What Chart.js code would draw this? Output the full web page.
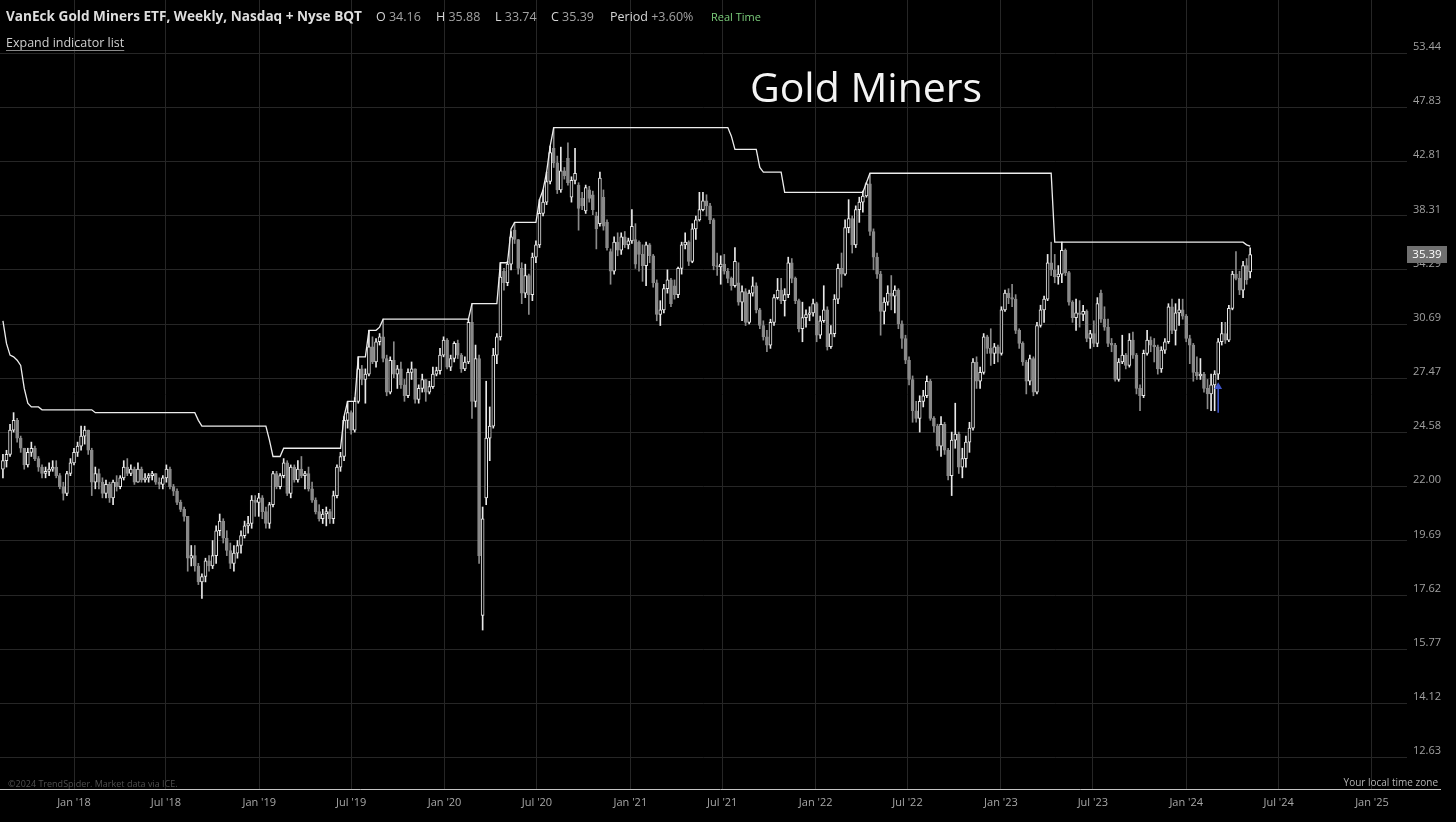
<!DOCTYPE html>
<html>
<head>
<meta charset="utf-8">
<title>Gold Miners</title>
<script src="https://cdn.jsdelivr.net/npm/chart.js@4.4.0/dist/chart.umd.min.js"></script>
<style>
  html, body { margin: 0; padding: 0; background: #000; }
  #wrap { width: 1456px; height: 822px; position: relative; background: #000; }
</style>
</head>
<body>
<div id="wrap"><canvas id="gdx" width="1456" height="822"></canvas></div>
<script>
// weekly candles, first one is the week of 14 Aug 2017, last one the week of 6 May 2024
const firstWeek = [2017, 8, 14];

const opens = [
  22.8,23.2,23.5,24.7,25.2,24.3,23.8,23.0,23.6,23.8,
  23.3,22.9,22.6,22.7,22.8,22.9,22.5,22.0,21.7,22.6,
  23.1,23.6,23.9,24.4,24.7,23.7,22.2,22.6,22.2,21.7,
  22.1,21.5,22.2,22.0,22.4,22.9,22.6,22.8,22.2,22.8,
  22.3,22.4,22.5,22.6,22.2,22.1,22.4,22.8,22.0,21.8,
  21.3,21.0,20.7,19.0,19.1,18.7,18.1,18.3,18.9,18.7,
  19.1,20.1,20.5,19.8,19.3,18.8,19.2,19.5,19.9,20.3,
  20.4,21.4,21.3,21.5,20.9,20.4,21.2,22.6,22.0,22.5,
  23.1,21.7,22.9,22.3,22.8,22.5,22.6,21.9,21.4,20.9,
  20.6,20.8,20.9,20.6,21.6,22.9,23.4,25.2,25.6,24.7,
  26.2,28.0,27.4,27.7,29.3,28.4,29.6,29.9,28.6,26.7,
  28.5,27.7,28.0,27.1,26.5,27.8,28.0,26.3,26.9,27.4,
  26.7,27.0,27.7,27.9,28.8,29.7,28.1,28.6,29.5,28.8,
  28.0,28.4,30.8,26.2,28.6,16.9,21.5,24.3,24.9,28.8,
  29.9,34.2,33.4,34.7,37.2,36.5,34.4,32.7,33.9,32.6,
  35.2,36.1,38.5,39.4,41.1,44.0,42.7,40.4,42.0,43.1,
  39.8,41.2,40.8,39.7,38.7,40.4,40.0,38.3,37.7,39.8,
  37.8,35.6,34.2,36.3,35.7,36.7,36.1,36.4,36.5,36.3,
  35.4,34.6,36.1,35.3,33.4,31.3,31.6,33.0,33.6,33.2,
  32.6,34.4,36.1,36.3,34.9,37.3,38.0,38.8,39.5,39.1,
  38.0,34.6,34.5,34.7,34.2,33.7,33.2,33.4,32.1,32.8,
  30.8,32.7,33.2,31.6,30.6,29.9,29.4,30.8,32.4,32.9,
  32.2,32.6,34.8,33.7,32.2,30.4,31.1,31.3,31.4,32.0,
  30.0,30.9,31.6,29.3,30.1,32.3,34.4,34.0,37.4,38.1,
  36.1,38.8,39.4,39.9,40.9,37.1,35.2,34.0,31.5,32.1,
  32.7,32.5,32.9,30.7,29.8,28.5,27.4,25.7,25.3,26.2,
  26.5,27.3,25.3,24.9,23.9,25.0,23.7,22.5,24.2,24.5,
  22.9,23.3,24.1,24.8,28.4,27.3,27.8,29.9,29.2,28.9,
  29.3,28.9,31.6,32.7,32.4,32.3,30.3,29.5,28.4,27.3,
  28.6,26.7,30.6,31.6,32.3,34.8,34.3,33.8,34.0,35.7,
  34.1,32.1,31.1,31.4,31.3,31.5,29.8,30.1,29.5,32.7,
  31.0,30.5,29.5,29.4,27.4,28.4,28.8,28.2,29.7,28.8,
  26.9,26.5,28.9,29.7,29.4,29.3,28.0,29.1,29.6,31.8,
  30.3,31.4,31.6,31.2,29.8,29.4,27.8,27.6,27.7,26.9,
  26.6,27.1,27.7,29.6,30.1,29.7,31.7,34.0,33.7,32.9,
  34.6,34.16
];

const highs = [
  23.5,23.7,25.0,25.6,25.3,24.4,23.8,23.8,24.1,23.9,
  23.4,23.0,22.9,23.1,23.2,23.2,22.6,22.2,22.7,23.3,
  23.8,24.1,24.9,24.9,24.7,23.8,22.9,22.8,22.4,22.3,
  22.2,22.3,22.5,22.5,23.2,23.3,23.0,22.9,23.1,22.9,
  22.6,22.6,22.7,22.6,22.4,22.5,23.0,22.9,22.1,21.9,
  21.4,21.1,20.7,19.5,19.5,18.8,18.4,19.0,19.1,19.7,
  20.3,20.8,20.6,20.1,19.6,19.5,19.7,20.1,20.5,20.7,
  21.6,21.6,21.7,21.6,21.1,21.3,22.7,22.7,22.6,23.3,
  23.2,23.0,23.0,23.2,23.4,22.7,22.9,22.2,21.5,21.2,
  21.0,21.1,21.0,21.8,23.0,23.6,25.4,26.2,25.7,26.4,
  28.7,28.2,28.0,30.3,29.9,29.8,30.1,31.0,28.8,28.7,
  29.6,28.2,28.4,27.4,28.0,28.4,28.0,27.1,27.7,27.4,
  27.3,28.1,28.1,29.2,29.9,29.8,28.8,29.6,29.7,28.9,
  28.7,31.0,32.0,29.4,28.8,21.1,27.3,25.9,29.2,30.1,
  34.8,34.4,34.9,37.1,37.8,36.5,34.8,34.7,34.0,35.5,
  36.4,39.6,40.4,41.9,44.2,45.9,43.3,44.1,42.3,44.5,
  41.5,44.0,41.0,40.2,40.8,40.7,40.3,38.6,41.9,40.4,
  38.0,35.8,36.7,37.0,37.0,37.1,36.6,38.8,37.7,36.4,
  36.1,36.3,36.2,35.4,33.6,32.2,33.3,34.3,33.7,33.6,
  34.5,36.3,37.0,36.4,37.7,38.3,40.2,40.2,40.0,39.3,
  38.1,35.5,35.3,35.4,34.4,33.8,35.9,34.8,33.2,33.0,
  32.9,33.8,33.4,31.7,30.9,30.3,31.0,32.6,33.7,33.7,
  33.0,35.2,35.1,33.8,32.3,32.1,31.6,31.8,32.3,32.1,
  31.2,33.2,31.8,30.6,32.6,34.7,35.5,38.0,39.6,38.3,
  39.1,39.8,40.3,41.0,41.8,37.3,35.5,34.2,32.4,33.2,
  33.9,33.2,33.0,30.9,30.0,28.7,27.6,26.2,26.5,26.8,
  27.6,27.4,25.4,25.0,25.4,25.1,23.8,24.6,26.1,24.6,
  23.8,24.4,25.1,28.6,28.7,28.1,30.1,30.0,30.4,29.5,
  29.4,31.8,32.9,33.0,33.3,32.6,30.4,29.6,28.5,28.8,
  28.7,30.8,31.9,32.5,35.4,36.3,35.4,34.6,36.3,35.8,
  34.2,32.2,32.3,32.2,31.9,31.6,30.3,30.9,32.4,32.9,
  31.8,31.0,29.8,29.5,28.6,30.0,28.9,30.1,30.2,28.9,
  27.1,29.1,30.3,29.9,29.8,29.4,29.3,29.8,32.0,32.3,
  32.0,32.3,32.3,31.3,30.0,29.5,28.7,28.6,27.8,27.4,
  27.7,27.9,29.8,30.8,30.8,31.9,34.2,35.6,34.2,34.9,
  35.1,35.88
];

const lows = [
  22.4,22.9,23.4,24.6,24.1,23.6,22.8,22.9,23.4,23.2,
  22.7,22.4,22.4,22.5,22.7,22.4,21.9,21.4,21.6,22.5,
  23.0,23.4,23.7,24.0,23.5,21.6,21.9,21.9,21.5,21.5,
  21.3,21.2,21.8,21.9,22.3,22.5,22.5,22.1,22.2,22.2,
  22.2,22.2,22.3,22.1,21.9,21.9,22.2,21.9,21.6,21.2,
  20.9,20.5,18.5,18.7,18.5,18.0,17.5,18.1,18.5,18.6,
  18.8,19.9,19.6,19.1,18.6,18.5,19.0,19.2,19.8,20.0,
  20.2,20.7,20.7,20.6,20.2,20.2,21.1,21.9,21.9,22.4,
  21.6,21.5,22.2,22.2,22.4,21.9,21.8,21.3,20.8,20.5,
  20.4,20.3,20.4,20.4,21.5,22.7,23.2,24.8,24.5,24.6,
  26.1,27.1,26.1,27.6,28.3,28.1,29.4,28.4,26.5,26.6,
  27.5,26.9,26.9,26.2,26.4,27.4,26.1,26.1,26.7,26.2,
  26.6,26.9,27.6,27.7,28.7,28.0,27.9,28.4,28.6,27.8,
  27.9,28.3,25.3,25.9,18.8,16.4,21.2,23.2,24.8,28.3,
  29.7,32.9,33.2,34.3,36.2,34.0,32.0,32.4,31.3,32.2,
  34.8,35.9,38.3,39.2,40.9,42.3,40.1,40.2,41.3,40.8,
  39.4,40.9,37.2,38.8,38.5,39.4,38.4,35.8,37.5,37.2,
  35.7,33.3,34.0,35.3,35.4,35.9,35.8,36.2,34.4,34.2,
  33.5,33.2,34.8,33.1,30.9,30.6,31.4,32.7,31.8,32.3,
  32.4,34.0,35.8,34.6,34.8,36.5,37.9,38.7,38.3,37.7,
  34.3,33.9,33.3,34.0,33.4,32.9,33.1,31.9,30.9,30.6,
  30.7,32.5,31.4,30.4,29.7,29.0,29.2,30.6,32.3,32.0,
  31.2,32.4,33.4,32.0,30.2,29.6,30.5,30.9,31.2,29.6,
  29.8,30.8,29.1,29.2,29.9,32.0,33.1,33.9,37.0,35.5,
  35.9,37.8,38.6,39.8,36.8,34.3,33.7,30.0,30.7,31.9,
  31.6,31.4,30.4,29.2,28.3,27.1,25.1,25.1,24.6,25.9,
  26.4,25.2,24.6,23.7,23.4,23.5,22.3,21.6,23.8,22.6,
  22.4,22.9,23.6,24.7,26.9,26.9,27.7,28.9,28.2,28.3,
  28.4,28.8,31.5,32.0,31.8,30.1,29.2,28.2,26.6,27.1,
  26.5,26.6,30.5,30.8,32.2,33.9,33.4,33.3,33.4,33.9,
  31.9,30.8,30.3,30.5,30.9,29.6,29.2,29.3,29.3,30.8,
  30.3,29.3,29.0,27.3,27.3,28.3,28.0,28.1,28.6,26.6,
  25.7,26.4,28.8,29.0,28.4,27.7,27.8,28.9,29.5,30.1,
  29.4,30.6,31.0,29.6,28.3,27.3,27.4,27.4,26.7,25.8,
  25.7,25.7,27.4,29.4,29.5,29.6,31.6,33.6,32.6,32.4,
  33.3,33.74
];

const closes = [
  23.2,23.5,24.7,25.2,24.3,23.8,23.0,23.6,23.8,23.3,
  22.9,22.6,22.7,22.8,22.9,22.5,22.0,21.7,22.6,23.1,
  23.6,23.9,24.4,24.7,23.7,22.2,22.6,22.2,21.7,22.1,
  21.5,22.2,22.0,22.4,22.9,22.6,22.8,22.2,22.8,22.3,
  22.4,22.5,22.6,22.2,22.1,22.4,22.8,22.0,21.8,21.3,
  21.0,20.7,19.0,19.1,18.7,18.1,18.3,18.9,18.7,19.1,
  20.1,20.5,19.8,19.3,18.8,19.2,19.5,19.9,20.3,20.4,
  21.4,21.3,21.5,20.9,20.4,21.2,22.6,22.0,22.5,23.1,
  21.7,22.9,22.3,22.8,22.5,22.6,21.9,21.4,20.9,20.6,
  20.8,20.9,20.6,21.6,22.9,23.4,25.2,25.6,24.7,26.2,
  28.0,27.4,27.7,29.3,28.4,29.6,29.9,28.6,26.7,28.5,
  27.7,28.0,27.1,26.5,27.8,28.0,26.3,26.9,27.4,26.7,
  27.0,27.7,27.9,28.8,29.7,28.1,28.6,29.5,28.8,28.0,
  28.4,30.8,26.2,28.6,19.1,20.6,24.3,24.9,28.8,29.9,
  33.8,33.4,34.7,36.7,36.5,34.4,32.7,33.9,32.6,35.2,
  36.1,38.5,39.4,41.1,43.6,42.7,40.4,42.0,41.6,41.0,
  41.2,41.8,38.9,39.1,40.6,39.7,38.8,37.3,41.4,37.5,
  35.9,34.2,36.3,35.7,36.7,36.1,36.4,37.5,34.7,35.4,
  34.6,36.1,35.3,33.4,31.3,31.6,33.0,33.6,32.0,32.6,
  34.4,36.1,36.3,34.9,37.3,38.0,38.8,39.5,39.1,38.0,
  34.6,34.5,34.7,34.2,33.7,33.2,34.9,32.1,32.8,30.8,
  32.7,33.2,31.6,30.6,29.9,29.4,30.8,32.4,32.9,32.2,
  32.6,34.8,33.7,32.2,30.4,31.1,31.3,31.4,32.0,30.0,
  30.9,31.6,29.3,30.1,32.3,34.4,34.0,37.4,38.1,36.1,
  38.8,39.4,39.9,40.9,37.1,35.2,34.0,31.5,32.1,32.7,
  32.5,32.9,30.7,29.8,28.5,27.4,25.7,25.3,26.2,26.5,
  27.3,25.3,24.9,23.9,25.0,23.7,22.5,24.2,24.5,22.9,
  23.3,24.1,24.8,28.4,27.3,27.8,29.9,29.2,28.9,29.3,
  28.9,31.6,32.7,32.4,32.3,30.3,29.5,28.4,27.3,28.6,
  26.7,30.6,31.6,32.3,34.8,34.3,33.8,34.0,35.7,34.1,
  32.1,31.1,31.4,31.3,31.5,29.8,30.1,29.5,32.0,31.0,
  30.5,29.5,29.4,27.4,28.4,28.8,28.2,29.7,28.8,26.9,
  26.5,28.9,29.7,29.4,29.3,28.0,29.1,29.6,31.8,30.3,
  31.4,31.6,31.2,29.8,29.4,27.8,27.6,27.7,26.9,26.6,
  27.1,27.7,29.6,30.1,29.7,31.7,34.0,33.7,32.9,34.6,
  33.6,35.39
];

// the white stepped line: week number where each level starts, and the level
const stepWeek  = [1, 2, 3, 4, 5, 6, 7, 8, 9, 12, 27, 56, 57, 76, 77, 80, 97, 98, 101, 104,
                   107, 108, 133, 141, 144, 145, 152, 153, 154, 155, 156, 206, 207, 214, 215, 221, 244, 245, 297, 351, 352];
const stepLevel = [30.9, 29.5, 28.8, 28.7, 28.5, 28.2, 26.9, 26.1, 25.9, 25.75, 25.6, 25.2, 24.9, 24.2, 23.4, 23.8, 25.4, 26.2, 28.7, 30.3,
                   30.5, 31.0, 32.0, 34.8, 37.3, 37.8, 39.6, 40.4, 41.9, 44.2, 45.9, 45.1, 43.9, 42.3, 41.9, 40.2, 41.0, 41.8, 36.3, 36.1, 36.0];

// blue buy arrow
const signalWeek = 343;
const signalLow = 25.6;
const signalTip = 27.0;

// axis ticks
const yTicks = [53.44, 47.83, 42.81, 38.31, 34.29, 30.69, 27.47, 24.58, 22.00, 19.69, 17.62, 15.77, 14.12, 12.63];
const xTickDates = [[2018,1],[2018,7],[2019,1],[2019,7],[2020,1],[2020,7],[2021,1],[2021,7],
                    [2022,1],[2022,7],[2023,1],[2023,7],[2024,1],[2024,7],[2025,1]];
const xTickLabels = ["Jan '18","Jul '18","Jan '19","Jul '19","Jan '20","Jul '20","Jan '21","Jul '21",
                     "Jan '22","Jul '22","Jan '23","Jul '23","Jan '24","Jul '24","Jan '25"];

const lastBar = { o: '34.16', h: '35.88', l: '33.74', c: '35.39', period: '+3.60%' };

// x axis is in days counted from 1 Jan 2018
const DAY = 86400000;
const base = Date.UTC(2018, 0, 1);
function dayOf(y, m, d) { return (Date.UTC(y, m - 1, d) - base) / DAY; }

const firstDay = dayOf(firstWeek[0], firstWeek[1], firstWeek[2]);
const weekDays = closes.map((c, i) => firstDay + 7 * i);
const xTickDays = xTickDates.map(t => dayOf(t[0], t[1], 1));

// visible window
const pxPerDay = 1298 / 2557;
const xMin = -74 / pxPerDay;
const xMax = xMin + 1407 / pxPerDay;
const yMin = 11.842;
const yMax = 59.61;

function levelAt(week) {
  let v = stepLevel[0];
  for (let j = 0; j < stepWeek.length; j++) {
    if (stepWeek[j] <= week) v = stepLevel[j];
  }
  return v;
}

const wickData = weekDays.map((d, i) => ({ x: d, y: [lows[i], highs[i]] }));
const bodyData = weekDays.map((d, i) => ({ x: d, y: [opens[i], closes[i]] }));
const stepData = weekDays.map((d, i) => ({ x: d, y: levelAt(i + 1) }));
const sigDay = weekDays[signalWeek - 1];

const UP = '#e9e9e9';
const DOWN = '#8a8a8a';
function isUp(i) { return closes[i] >= opens[i]; }

// texts around the plot
const overlay = {
  id: 'overlay',
  afterDraw(chart) {
    const ctx = chart.ctx;
    ctx.save();
    ctx.textBaseline = 'alphabetic';
    ctx.textAlign = 'left';

    // header
    ctx.font = 'bold 13px "Open Sans"';
    const head = 'VanEck Gold Miners ETF, Weekly, Nasdaq + Nyse BQT';
    let w = ctx.measureText(head).width;
    let size = 13 * 356 / w;
    ctx.font = 'bold ' + size.toFixed(2) + 'px "Open Sans"';
    ctx.fillStyle = '#dedede';
    ctx.fillText(head, 6, 21);

    ctx.font = '12.5px "Open Sans"';
    const parts = [['O', lastBar.o, 376], ['H', lastBar.h, 436], ['L', lastBar.l, 495], ['C', lastBar.c, 551]];
    parts.forEach(p => {
      ctx.fillStyle = '#d6d6d6';
      ctx.fillText(p[0], p[2], 21);
      ctx.fillStyle = '#a2a2a2';
      ctx.fillText(p[1], p[2] + ctx.measureText(p[0] + ' ').width, 21);
    });
    ctx.fillStyle = '#d6d6d6';
    ctx.fillText('Period', 610, 21);
    ctx.fillStyle = '#a2a2a2';
    ctx.fillText(lastBar.period, 610 + ctx.measureText('Period ').width, 21);
    ctx.font = '11px "Open Sans"';
    ctx.fillStyle = '#7ccf7c';
    ctx.fillText('Real Time', 711, 21);

    // indicator link
    ctx.font = '12.5px "Open Sans"';
    ctx.fillStyle = '#cfcfcf';
    ctx.fillText('Expand indicator list', 6, 47);
    const lw = ctx.measureText('Expand indicator list').width;
    ctx.strokeStyle = '#8a8a8a';
    ctx.lineWidth = 1;
    ctx.beginPath();
    ctx.moveTo(6, 50.5);
    ctx.lineTo(6 + lw, 50.5);
    ctx.stroke();

    // big title
    ctx.font = '41px "Open Sans"';
    ctx.fillStyle = '#f4f4f4';
    ctx.textAlign = 'center';
    ctx.fillText('Gold Miners', 866, 102);

    // bottom notes
    ctx.textAlign = 'left';
    ctx.font = '9px "Open Sans"';
    ctx.fillStyle = '#505050';
    ctx.fillText('\u00a92024 TrendSpider. Market data via ICE.', 8, 787);
    ctx.textAlign = 'right';
    ctx.font = '10px "Open Sans"';
    ctx.fillStyle = '#b4b4b4';
    ctx.fillText('Your local time zone', 1438, 786);

    // time axis line
    ctx.strokeStyle = '#c4c4c4';
    ctx.beginPath();
    ctx.moveTo(0, 789.5);
    ctx.lineTo(1441, 789.5);
    ctx.stroke();

    // last price tag
    const yPx = chart.scales.y.getPixelForValue(closes[closes.length - 1]);
    ctx.fillStyle = '#707070';
    ctx.fillRect(1407, Math.round(yPx) - 9, 40, 17);
    ctx.fillStyle = '#ffffff';
    ctx.font = '11.5px "Open Sans"';
    ctx.textAlign = 'center';
    ctx.textBaseline = 'middle';
    ctx.fillText(lastBar.c, 1427, Math.round(yPx) - 0.5);
    ctx.restore();
  }
};

Chart.defaults.font.family = '"Open Sans", sans-serif';

const ctx = document.getElementById('gdx').getContext('2d');
new Chart(ctx, {
  type: 'bar',
  data: {
    datasets: [
      {
        type: 'line',
        label: 'High channel',
        data: stepData,
        borderColor: '#ededed',
        borderWidth: 1.3,
        pointRadius: 0,
        tension: 0,
        order: 0
      },
      {
        type: 'line',
        label: 'Signal',
        data: [{ x: sigDay, y: signalLow }, { x: sigDay, y: signalTip }],
        borderColor: '#3f55c8',
        borderWidth: 1.6,
        pointRadius: [0, 4.5],
        pointStyle: 'triangle',
        pointBackgroundColor: '#3f55c8',
        pointBorderColor: '#3f55c8',
        pointBorderWidth: 0,
        order: 0
      },
      {
        label: 'Body',
        data: bodyData,
        barThickness: 3,
        minBarLength: 1,
        grouped: false,
        borderSkipped: false,
        borderWidth: 1,
        backgroundColor: c => isUp(c.dataIndex) ? '#000000' : DOWN,
        borderColor: c => isUp(c.dataIndex) ? UP : DOWN,
        order: 1
      },
      {
        label: 'Wick',
        data: wickData,
        barThickness: 1,
        grouped: false,
        borderWidth: 0,
        backgroundColor: c => isUp(c.dataIndex) ? UP : DOWN,
        order: 2
      }
    ]
  },
  options: {
    responsive: false,
    animation: false,
    devicePixelRatio: 1,
    layout: { padding: 0, autoPadding: false },
    plugins: {
      legend: { display: false },
      title: { display: false },
      tooltip: { enabled: false }
    },
    scales: {
      x: {
        type: 'linear',
        position: 'bottom',
        min: xMin,
        max: xMax,
        offset: false,
        border: { display: false },
        grid: { color: '#262626', drawTicks: false, offset: false },
        ticks: {
          color: '#a6a6a6',
          font: { size: 11 },
          padding: 7,
          autoSkip: false,
          maxRotation: 0,
          callback: (v, i) => xTickLabels[i]
        },
        afterBuildTicks: s => { s.ticks = xTickDays.map(v => ({ value: v })); },
        afterFit: s => { s.height = 33; s.paddingLeft = 0; s.paddingRight = 0; }
      },
      y: {
        type: 'logarithmic',
        position: 'right',
        min: yMin,
        max: yMax,
        border: { display: false },
        grid: { color: '#262626', drawTicks: false },
        ticks: {
          color: '#a0a0a0',
          font: { size: 11 },
          padding: 6,
          labelOffset: -6.3,
          callback: v => Number(v).toFixed(2)
        },
        afterBuildTicks: s => { s.ticks = yTicks.map(v => ({ value: v })); },
        afterFit: s => { s.width = 49; s.paddingTop = 0; s.paddingBottom = 0; }
      }
    }
  },
  plugins: [overlay]
});
</script>
</body>
</html>
